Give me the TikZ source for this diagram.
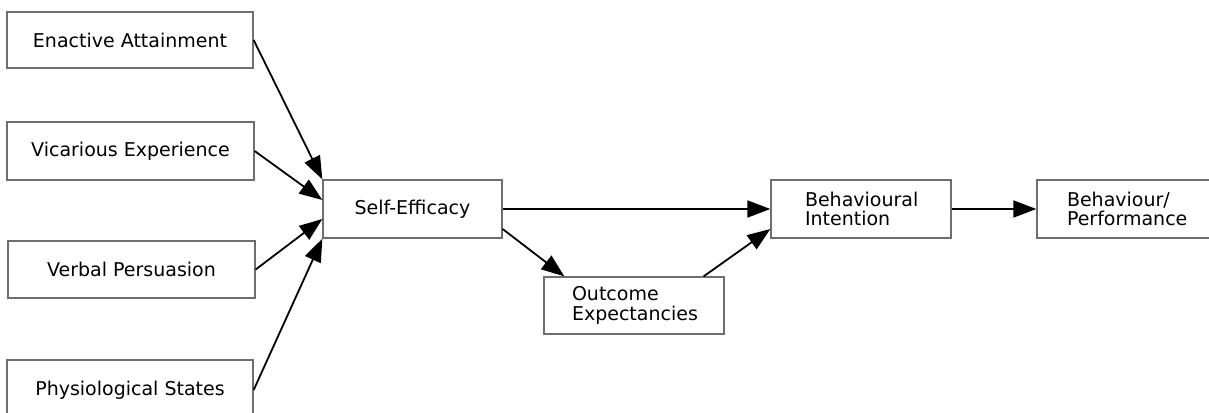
\documentclass[tikz,border=0pt]{standalone}
\usepackage{fontspec}
\setmainfont{DejaVu Sans}
\usetikzlibrary{arrows.meta}
\definecolor{boxline}{HTML}{6E6E6E}
\begin{document}
\begin{tikzpicture}[x=1pt,y=-1pt,
  every node/.style={font=\fontsize{19}{19.5}\selectfont},
  box/.style={draw=boxline,line width=1.3pt,rectangle,inner sep=0pt},
  leftbox/.style={box,align=left,inner xsep=#1,inner ysep=0pt},
  link/.style={line width=1.8pt,-{Triangle[length=23pt,width=17pt]}}]
\clip (0,0) rectangle (1209,412);
% source boxes on the left
\node[box,minimum width=246pt,minimum height=56pt] (ea) at (130,40) {Enactive Attainment};
\node[box,minimum width=247pt,minimum height=58pt] (ve) at (130.5,151) {Vicarious Experience};
\node[box,minimum width=247pt,minimum height=57pt] (vp) at (131.5,269.5) {Verbal Persuasion};
\node[box,minimum width=246pt,minimum height=60pt] (ps) at (130,390) {Physiological States};
% central chain
\node[box,minimum width=179pt,minimum height=58pt] (se) at (412.5,209) {Self-Efficacy};
\node[leftbox=28pt,text width=124pt,minimum height=57pt] (oe) at (634,305.5) {Outcome\\Expectancies};
\node[leftbox=34pt,text width=112pt,minimum height=58pt] (bi) at (861,209) {Behavioural\\Intention};
\node[leftbox=30pt,text width=170pt,minimum height=58pt] (bp) at (1152,209) {Behaviour/\\Performance};
% connectors
\draw[link] (ea.east) -- (se.north west);
\draw[link] (ve.east) -- ([yshift=9pt]se.west);
\draw[link] (vp.east) -- ([yshift=-10pt]se.west);
\draw[link] (ps.east) -- (se.south west);
\draw[link] (se.east) -- (bi.west);
\draw[link] ([yshift=-20pt]se.east) -- ([xshift=21pt]oe.north west);
\draw[link] ([xshift=-21pt]oe.north east) -- ([yshift=-20pt]bi.west);
\draw[link] (bi.east) -- (bp.west);
\end{tikzpicture}
\end{document}
